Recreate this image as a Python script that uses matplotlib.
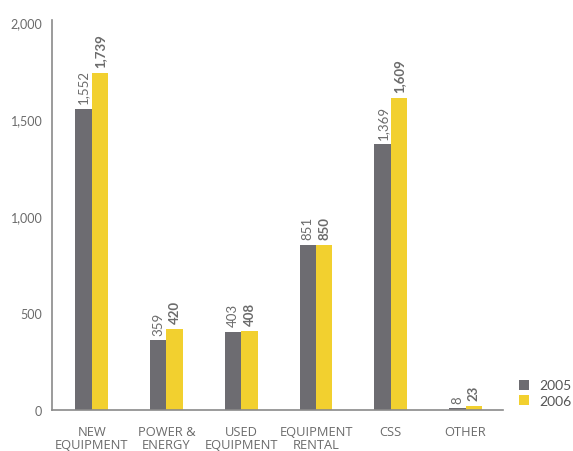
import matplotlib.pyplot as plt
import numpy as np

plt.rcParams['font.family'] = ['Lato', 'DejaVu Sans']

categories = ['NEW\nEQUIPMENT', 'POWER &\nENERGY', 'USED\nEQUIPMENT',
              'EQUIPMENT\nRENTAL', 'CSS', 'OTHER']
values_2005 = [1552, 359, 403, 851, 1369, 8]
values_2006 = [1739, 420, 408, 850, 1609, 23]
yticks = [0, 500, 1000, 1500, 2000]

gray = '#6d6c71'
yellow = '#f2d02f'
text_col = '#6b6b6b'
axis_col = '#8a8a8a'

fig = plt.figure(figsize=(5.73, 4.52), dpi=100)
ax = fig.add_axes([0.0908, 0.0907, 0.787, 0.8628])

x = np.arange(len(categories))
w = 0.22
ax.bar(x - w / 2, values_2005, w, color=gray, label='2005')
ax.bar(x + w / 2, values_2006, w, color=yellow, label='2006')

for xi, v in zip(x, values_2005):
    ax.text(xi - w / 2, v + 30, f'{v:,}', rotation=90, ha='center', va='bottom',
            fontsize=9.5, color=text_col)
for xi, v in zip(x, values_2006):
    ax.text(xi + w / 2, v + 30, f'{v:,}', rotation=90, ha='center', va='bottom',
            fontsize=9.5, color=text_col, fontweight='bold')

ax.set_xlim(-0.53, 5.5)
ax.set_ylim(0, 2010)
ax.set_yticks(yticks)
ax.set_yticklabels([f'{t:,}' for t in yticks])
ax.set_xticks(x)
ax.set_xticklabels(categories, linespacing=1.0, fontfamily='Open Sans',
                   fontsize=9.3)
ax.tick_params(length=0, labelcolor=text_col)
ax.tick_params(axis='y', pad=7, labelsize=9)
ax.tick_params(axis='x', pad=11)

for s in ['top', 'right']:
    ax.spines[s].set_visible(False)
for s in ['left', 'bottom']:
    ax.spines[s].set_color(axis_col)
    ax.spines[s].set_linewidth(1.2)
ax.spines['left'].set_bounds(0, 2010)

leg = ax.legend(loc='lower left', bbox_to_anchor=(1.02, -0.01), frameon=False,
                fontsize=10, handlelength=0.75, handleheight=0.75,
                handletextpad=0.7, labelspacing=0.25, borderpad=0)
for t in leg.get_texts():
    t.set_color('#555555')

fig.savefig('out.png', dpi=100)
